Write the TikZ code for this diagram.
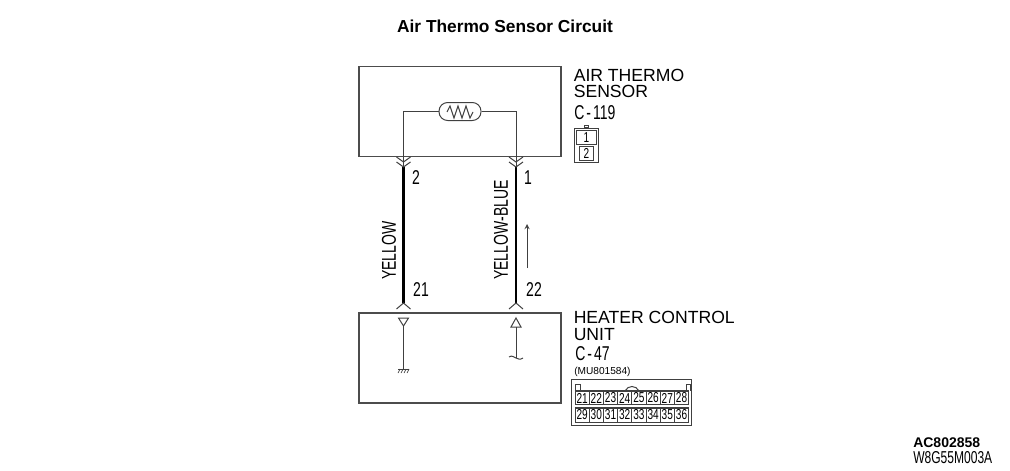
\documentclass[tikz,border=0pt]{standalone}
\usepackage{fontspec}
\setmainfont{Liberation Sans}
\newfontfamily\narrowfont[FakeStretch=0.7]{Liberation Sans}
\usetikzlibrary{positioning}
\tikzset{
  boxline/.style={draw=black!70, line width=0.95pt},
  thinline/.style={draw=black!75, line width=0.75pt},
  wireline/.style={draw=black, line width=2pt},
  heading/.style={font=\fontsize{13.2}{13.2}\selectfont, anchor=west, inner sep=0pt},
  narrowtxt/.style={font=\narrowfont\fontsize{15}{15}\selectfont, inner sep=0pt},
  pintxt/.style={font=\narrowfont\fontsize{10.8}{10.8}\selectfont, inner sep=0pt},
}
\begin{document}
\begin{tikzpicture}[x=0.75pt, y=-0.75pt]
\useasboundingbox (0,0) rectangle (1010,471);
\node[inner sep=0pt, font=\bfseries\fontsize{13}{13}\selectfont] (title) at (505,26) {Air Thermo Sensor Circuit};
% boxes
\node[boxline, minimum width=151.5pt, minimum height=67pt, inner sep=0pt] (sensorbox) at (460,111.5) {};
\node[boxline, minimum width=151.5pt, minimum height=67.5pt, inner sep=0pt] (unitbox) at (460,358) {};
\node[thinline, rounded corners=6.5pt, minimum width=31.5pt, minimum height=13.5pt, inner sep=0pt] (therm) at (460,111.5) {};
\draw[thinline] (447,112) -- (450,106) -- (454,118) -- (458,106) -- (462,118) -- (466,106) -- (470,118) -- (473,112);
% wires
\coordinate (top2) at (403.5,167);
\coordinate (top1) at (516,167);
\coordinate (low21) at (403.5,303);
\coordinate (low22) at (516,303);
\draw[thinline] (therm.west) -| (top2);
\draw[thinline] (therm.east) -| (top1);
\draw[wireline] (top2) -- (low21);
\draw[wireline] (top1) -- (low22);
\foreach \wx in {403.5,516} {
  \draw[thinline] (\wx-7,157) -- (\wx,162) -- (\wx+7,157);
  \draw[thinline] (\wx-7,162) -- (\wx,167) -- (\wx+7,162);
  \draw[thinline] (\wx-7,309) -- (\wx,303) -- (\wx+7,309);
}
\node[narrowtxt] (pin2) at (416,178) {2};
\node[narrowtxt] (pin1) at (528,178) {1};
\node[narrowtxt] (pin21) at (421,290) {21};
\node[narrowtxt] (pin22) at (534,290) {22};
\node[narrowtxt, rotate=90, anchor=west] (yellow) at (389,280) {YELLOW};
\node[narrowtxt, rotate=90, anchor=west] (yellowblue) at (501,280) {YELLOW-BLUE};
\coordinate (flowa) at (527,268);
\coordinate (flowb) at (527,224);
\draw[thinline, ->, >=stealth] (flowa) -- (flowb);
% unit inside
\coordinate (tri21) at (403.5,326);
\coordinate (gnd) at (403.5,369);
\coordinate (tri22) at (516,327);
\coordinate (wave) at (516,358);
\draw[thinline] (398.5,318) -- (408.5,318) -- (tri21) -- cycle;
\draw[thinline] (tri21) -- (gnd);
\draw[thinline] (398,369) -- (409,369);
\foreach \hx in {399,402,405,408}
  \draw[thinline, line width=0.5pt] (\hx+1,369) -- (\hx-1,373);
\draw[thinline] (511,327) -- (521,327) -- (516,318) -- cycle;
\draw[thinline] (tri22) -- (wave);
\draw[thinline] (509,357) .. controls (512,355) and (514,357) .. (516,358) .. controls (518,359) and (520,360) .. (523,358);
% sensor side
\node[heading] (sensorname) at (573.5,75) {AIR THERMO};
\node[heading, anchor=west] (sensorname2) at (573.5,91) {SENSOR};
\node[narrowtxt, anchor=west] (c119) at (574,113) {C\kern1.5pt-\kern1.5pt119};
\node[thinline, minimum width=18.5pt, minimum height=26pt, inner sep=0pt] (plug) at (586.5,145.5) {};
\node[thinline, pintxt, minimum width=15pt, minimum height=10pt] (plug1) at (586.5,137.5) {1};
\node[thinline, pintxt, minimum width=11pt, minimum height=10pt] (plug2) at (586.5,153.5) {2};
\node[thinline, minimum width=2.5pt, minimum height=1.5pt, inner sep=0pt, above=0pt of plug] (plugtab) {};
% unit side
\node[heading] (unitname) at (573.5,317) {HEATER CONTROL};
\node[heading, anchor=west] (unitname2) at (573.5,334.5) {UNIT};
\node[narrowtxt, anchor=west] (c47) at (575,354) {C\kern1.5pt-\kern1.5pt47};
\node[font=\fontsize{7.6}{7.6}\selectfont, inner sep=0pt, anchor=west] (partno) at (574,372) {(MU801584)};
\node[thinline, minimum width=90.5pt, minimum height=34.5pt, inner sep=0pt] (socket) at (631.5,402.5) {};
\foreach \pin [count=\i from 0] in {21,...,28}
  \node[thinline, pintxt, minimum width=10.65pt, minimum height=9.5pt] (cell\pin) at (582.1+14.2*\i,398) {\pin};
\foreach \pin [count=\i from 0] in {29,...,36}
  \node[thinline, pintxt, minimum width=10.65pt, minimum height=10.5pt] (cell\pin) at (582.1+14.2*\i,415) {\pin};
\draw[thinline, line width=1.2pt] (cell21.north west) -- (cell28.north east);
\draw[thinline, line width=1.2pt] (cell29.north west) -- (cell36.north east);
\draw[thinline] (575,391) -- (575,384) -- (580,384) -- (580,391);
\draw[thinline] (686,391) -- (686,384) -- (690,384) -- (690,391);
\draw[thinline] (625,391) .. controls (628,385) and (636,385) .. (639,391);
% codes
\node[inner sep=0pt, anchor=west, font=\bfseries\fontsize{10.5}{10.5}\selectfont] (figcode) at (913,443) {AC802858};
\node[inner sep=0pt, anchor=west, font=\narrowfont\fontsize{12.9}{12.9}\selectfont] (sheetcode) at (913,457.5) {W8G55M003A};
\end{tikzpicture}
\end{document}
